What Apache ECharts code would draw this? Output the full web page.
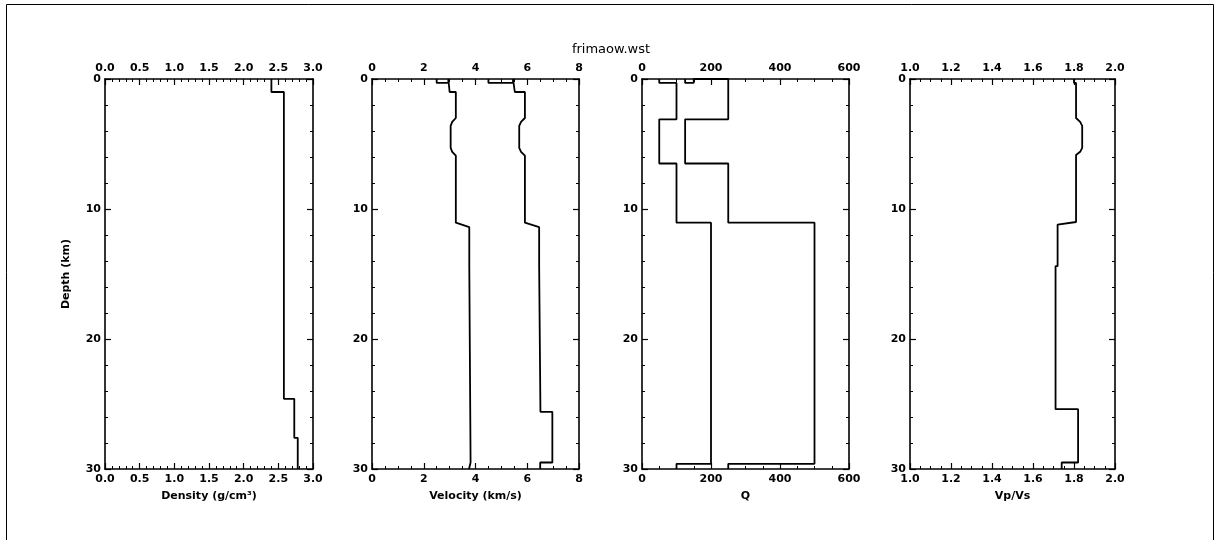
<!DOCTYPE html>
<html>
<head>
<meta charset="utf-8">
<title>frimaow.wst</title>
<script src="https://cdn.jsdelivr.net/npm/echarts@6/dist/echarts.min.js"></script>
<style>
html, body { margin: 0; padding: 0; background: #fff; }
#main { width: 1222px; height: 540px; }
</style>
</head>
<body>
<div id="main"></div>
<script>
// profiles: depth (km) and value at each vertex
var densityDepth = [0, 1, 1, 24.6, 24.6, 27.6, 27.6, 30]
var densityVal = [2.4, 2.4, 2.58, 2.58, 2.73, 2.73, 2.78, 2.78]

var vsDepth = [0, 0.3, 0.3, 0, 0, 1, 1, 3.0, 3.3, 3.6, 5.3, 5.6, 5.9, 11.05, 11.4, 14.4, 14.4, 29.5, 29.5, 30]
var vsVal = [2.5, 2.5, 2.95, 2.95, 3.0, 3.0, 3.24, 3.24, 3.1, 3.04, 3.04, 3.1, 3.24, 3.24, 3.76, 3.76, 3.81, 3.81, 3.75, 3.75]

var vpDepth = [0, 0.3, 0.3, 0, 0, 1, 1, 3.0, 3.3, 3.6, 5.3, 5.6, 5.9, 11.05, 11.4, 14.4, 14.4, 25.6, 25.6, 29.5, 29.5, 30]
var vpVal = [4.5, 4.5, 5.45, 5.45, 5.52, 5.52, 5.91, 5.91, 5.76, 5.69, 5.69, 5.76, 5.91, 5.91, 6.46, 6.46, 6.51, 6.51, 6.97, 6.97, 6.5, 6.5]

var qsDepth = [0, 0.3, 0.3, 3.1, 3.1, 6.5, 6.5, 11.05, 11.05, 29.6, 29.6, 30]
var qsVal = [50, 50, 100, 100, 50, 50, 100, 100, 200, 200, 100, 100]

var qpDepth = [0, 0.3, 0.3, 0, 0, 3.1, 3.1, 6.5, 6.5, 11.05, 11.05, 29.6, 29.6, 30]
var qpVal = [125, 125, 150, 150, 250, 250, 125, 125, 250, 250, 500, 500, 250, 250]

var ratioDepth = [0, 0.3, 0.3, 3.0, 3.3, 3.6, 5.3, 5.6, 5.85, 11.0, 11.2, 14.4, 14.4, 25.4, 25.4, 29.5, 29.5, 30]
var ratioVal = [1.8, 1.8, 1.81, 1.81, 1.83, 1.84, 1.84, 1.83, 1.81, 1.81, 1.72, 1.72, 1.71, 1.71, 1.82, 1.82, 1.74, 1.74]

// axis ranges and labels
var xNames = ['Density (g/cm\u00b3)', 'Velocity (km/s)', 'Q', 'Vp/Vs']
var xMin = [0, 0, 0, 1]
var xMax = [3, 8, 600, 2]
var xStep = [0.5, 2, 200, 0.2]
var xMinor = [5, 4, 4, 4]
var xDigits = [1, 0, 0, 1]
var depthTicks = [0, 30, 10]

var chart = echarts.init(document.getElementById('main'))

var lefts = [105, 372, 642, 910]
var widths = [208, 207, 207, 205]
var font = 'DejaVu Sans'
var black = '#000'

function zip (depth, val) {
  return depth.map(function (d, k) { return [val[k], d] })
}

var grids = []
var xAxes = []
var yAxes = []
lefts.forEach(function (l, i) {
  grids.push({ left: l, width: widths[i], top: 79, height: 390 })
  ;['bottom', 'top'].forEach(function (pos) {
    xAxes.push({
      type: 'value',
      gridIndex: i,
      position: pos,
      min: xMin[i],
      max: xMax[i],
      interval: xStep[i],
      axisLine: { show: true, onZero: false, lineStyle: { color: black, width: 1.6 } },
      axisTick: { show: true, inside: true, length: 6, lineStyle: { color: black, width: 1.2 } },
      minorTick: { show: true, splitNumber: xMinor[i], length: 3, lineStyle: { color: black, width: 1 } },
      splitLine: { show: false },
      minorSplitLine: { show: false },
      axisLabel: {
        show: true,
        showMinLabel: true,
        showMaxLabel: true,
        margin: 5,
        color: black,
        fontSize: 11,
        fontWeight: 'bold',
        fontFamily: font,
        formatter: function (v) { return v.toFixed(xDigits[i]) }
      },
      name: pos === 'bottom' ? xNames[i] : '',
      nameLocation: 'middle',
      nameGap: 22,
      nameTextStyle: { color: black, fontSize: 11, fontWeight: 'bold', fontFamily: font }
    })
  })
  ;['left', 'right'].forEach(function (pos) {
    yAxes.push({
      type: 'value',
      gridIndex: i,
      position: pos,
      inverse: true,
      min: depthTicks[0],
      max: depthTicks[1],
      interval: depthTicks[2],
      axisLine: { show: true, onZero: false, lineStyle: { color: black, width: 1.6 } },
      axisTick: { show: true, inside: true, length: 6, lineStyle: { color: black, width: 1.2 } },
      minorTick: { show: true, splitNumber: 5, length: 3, lineStyle: { color: black, width: 1 } },
      splitLine: { show: false },
      minorSplitLine: { show: false },
      axisLabel: {
        show: pos === 'left',
        showMinLabel: true,
        showMaxLabel: true,
        margin: 4,
        color: black,
        fontSize: 11,
        fontWeight: 'bold',
        fontFamily: font
      },
      name: (pos === 'left' && i === 0) ? 'Depth (km)' : '',
      nameLocation: 'middle',
      nameGap: 33,
      nameRotate: 90,
      nameTextStyle: { color: black, fontSize: 11, fontWeight: 'bold', fontFamily: font }
    })
  })
})

var profiles = [
  [0, zip(densityDepth, densityVal)],
  [1, zip(vsDepth, vsVal)],
  [1, zip(vpDepth, vpVal)],
  [2, zip(qsDepth, qsVal)],
  [2, zip(qpDepth, qpVal)],
  [3, zip(ratioDepth, ratioVal)]
]

var series = profiles.map(function (p) {
  return {
    type: 'line',
    xAxisIndex: p[0] * 2,
    yAxisIndex: p[0] * 2,
    data: p[1],
    symbol: 'none',
    clip: false,
    lineStyle: { color: black, width: 1.8 }
  }
})

chart.setOption({
  animation: false,
  backgroundColor: '#fff',
  title: {
    text: 'frimaow.wst',
    left: 'center',
    top: 38,
    textStyle: { color: black, fontSize: 13, fontWeight: 'normal', fontFamily: font }
  },
  graphic: [{
    type: 'rect',
    shape: { x: 6.5, y: 4.5, width: 1207, height: 545 },
    style: { fill: 'none', stroke: black, lineWidth: 1 }
  }],
  grid: grids,
  xAxis: xAxes,
  yAxis: yAxes,
  series: series
})
</script>
</body>
</html>
